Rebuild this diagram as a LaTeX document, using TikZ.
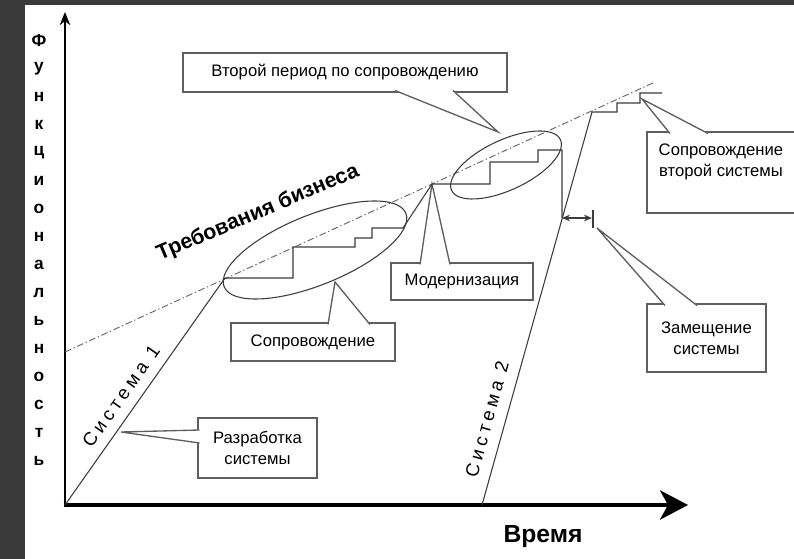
\documentclass[tikz,border=0pt]{standalone}
\usepackage{fontspec}
\setmainfont{Liberation Sans}
\usepackage{xcolor}
\usetikzlibrary{positioning,arrows.meta,shapes.geometric,calc}
\definecolor{framegray}{RGB}{58,58,58}
\definecolor{linegray}{RGB}{60,60,60}
\definecolor{boxgray}{RGB}{95,95,95}
\tikzset{
  box/.style={draw=boxgray, line width=1pt, fill=white, align=center, inner sep=2pt, font=\fontsize{12.5}{15.5}\selectfont},
  wedge/.style={draw=boxgray, line width=1pt, fill=white},
  curve/.style={draw=linegray, line width=0.8pt},
  oval/.style={ellipse, draw=linegray, line width=0.8pt, inner sep=0pt},
  req/.style={draw=black!60, line width=0.7pt, dash pattern=on 5pt off 2pt on 1pt off 2pt},
  axislbl/.style={font=\bfseries\fontsize{13}{14}\selectfont, inner sep=0pt},
  syslbl/.style={font=\fontsize{14}{15}\selectfont\addfontfeature{LetterSpace=22}, inner sep=0pt},
}

\begin{document}
\begin{tikzpicture}[x=0.75pt,y=-0.75pt]
  \useasboundingbox (0,0) rectangle (794,559);
  \fill[framegray] (0,0) rectangle (794,559);
  \fill[white] (25,5) rectangle (794,559);

  % axes
  \coordinate (O) at (65,505);
  \coordinate (ytip) at (65,12);
  \coordinate (xtip) at (688,505);
  \draw[black, line width=1.3pt, -{Stealth[length=10pt,width=8pt]}] (O) -- (ytip);
  \draw[black, line width=2.6pt, -{Stealth[length=21pt,width=22pt,inset=6pt]}] ([xshift=-1pt]O) -- (xtip);
  \foreach \ch [count=\i] in {Ф,у,н,к,ц,и,о,н,а,л,ь,н,о,с,т,ь}
    \node[axislbl] (f\i) at (39,{41+28*(\i-1)}) {\ch};
  \node[font=\bfseries\fontsize{18.5}{20}\selectfont] (time) at (543,537) {Время};

  % callout boxes
  \node[box, minimum width=243pt, minimum height=29.25pt] (per2) at (345,72.5) {Второй период по сопровождению};
  \node[box, minimum width=123pt, minimum height=28.5pt] (maint1) at (313,342) {Сопровождение};
  \node[box, minimum width=106.5pt, minimum height=27.75pt] (modern) at (462,281.5) {Модернизация};
  \node[box, minimum width=89.25pt, minimum height=45pt] (dev) at (257.5,448) {Разработка\\системы};
  \node[box, minimum width=89.25pt, minimum height=51pt] (repl) at (706.5,338) {Замещение\\системы};
  \draw[draw=boxgray, line width=1pt, fill=white] (796,132) -- (647,132) -- (647,213) -- (796,213);
  \node[font=\fontsize{12.5}{15.5}\selectfont, align=center] (maint2) at (721,162) {Сопровождение\\второй системы};

  % pointers
  \coordinate (p_dev) at (121,432);
  \filldraw[wedge] (199.5,430) -- (p_dev) -- (199.5,443);
  \coordinate (p_m1) at (335,282);
  \filldraw[wedge] (328,324.5) -- (p_m1) -- (370,324.5);
  \coordinate (p_mod) at (432,184);
  \filldraw[wedge] (420,264.5) -- (p_mod) -- (450,264.5);
  \coordinate (p_per2) at (498,132);
  \filldraw[wedge] (395,90.5) -- (p_per2) -- (453,90.5);
  \coordinate (p_m2) at (642,99);
  \filldraw[wedge] (670,133.5) -- (p_m2) -- (708,133.5);
  \coordinate (p_repl) at (597,228);
  \filldraw[wedge] (665,305.5) -- (p_repl) -- (697,305.5);

  % business requirements
  \coordinate (r0) at (65,352);
  \coordinate (r1) at (655,82);
  \draw[req] (r0) -- (r1);
  \node[font=\bfseries\fontsize{16}{18}\selectfont, rotate=23] (reqlbl) at (258,213) {Требования бизнеса};

  % systems
  \coordinate (s1top) at (225,278);
  \coordinate (peak) at (432,184);
  \coordinate (s1end) at (562,218);
  \coordinate (s2base) at (482,505);
  \coordinate (s2top) at (592,112);
  \draw[curve] (O) -- (s1top) -- (293,278) -- (293,247) -- (355,247) -- (355,238) -- (372,238)
    -- (372,228) -- (403,228) -- (peak) -- (490,184) -- (490,162) -- (538,162) -- (538,150)
    -- (562,150) -- (s1end);
  \draw[curve] (s2base) -- (s2top) -- (617,112) -- (617,103) -- (640,103) -- (640,93) -- (662,93);
  \node[oval, minimum width=147pt, minimum height=52.5pt, rotate=22] (e1) at (315,250) {};
  \node[oval, minimum width=90pt, minimum height=37.5pt, rotate=25] (e2) at (506,165) {};
  \node[syslbl, rotate=54.7] (sys1) at (121,396) {Система 1};
  \node[syslbl, rotate=74.4] (sys2) at (487,419) {Система 2};

  % replacement gap
  \coordinate (gapR) at (592,218);
  \draw[curve, {Stealth[length=6pt,width=5pt]}-{Stealth[length=6pt,width=5pt]}] (s1end) -- (gapR);
  \draw[curve] (593,210) -- (593,228);
\end{tikzpicture}
\end{document}
